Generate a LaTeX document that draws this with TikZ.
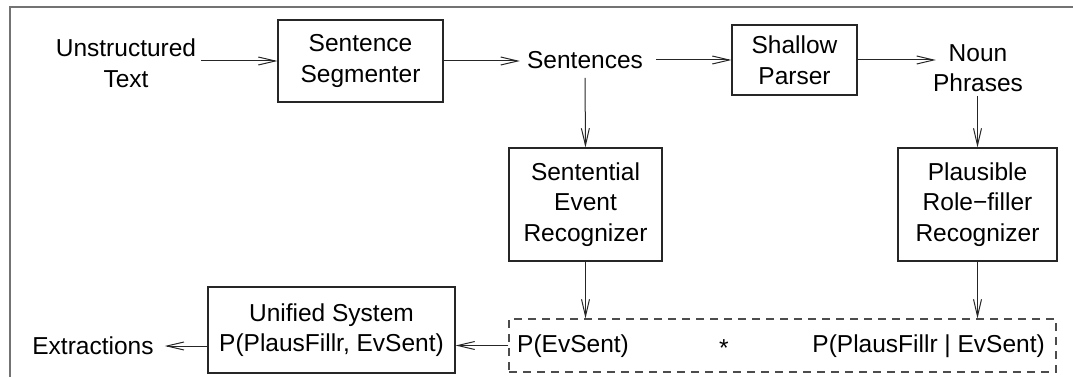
\documentclass[tikz,border=0pt]{standalone}
\usepackage{fontspec}
\setmainfont{Liberation Sans}
\usetikzlibrary{arrows.meta}
\begin{document}
\begin{tikzpicture}[x=1pt,y=-1pt,
  every node/.style={font=\fontsize{24.5}{30.5}\selectfont, align=center, inner sep=0pt, text=black},
  boxnode/.style={draw=black!85, line width=1.1pt, anchor=center},
  txt/.style={},
  conn/.style={draw=black!85, line width=1pt, -{Straight Barb[length=17pt,width=8pt,line width=1pt]}},
  frameline/.style={draw=black!55, line width=1.6pt}]
\useasboundingbox (0,0) rectangle (1073,377);
% frame (top and left only)
\draw[frameline] (1073,7) -- (10,7) -- (10,377);

% nodes
\node[txt] (ut) at (126,63) {Unstructured\\Text};
\node[boxnode, minimum width=165pt, minimum height=82pt] (ss) at (360.5,61) {Sentence\\Segmenter};
\node[txt] (sent) at (585,60) {Sentences};
\node[boxnode, minimum width=125pt, minimum height=70pt] (sp) at (794.5,60) {Shallow\\Parser};
\node[txt] (np) at (978,68) {Noun\\Phrases};
\node[boxnode, minimum width=153pt, minimum height=113pt] (sev) at (585.5,204.5) {Sentential\\Event\\Recognizer};
\node[boxnode, minimum width=159pt, minimum height=113pt] (prf) at (977.5,204.5) {Plausible\\Role−filler\\Recognizer};
\node[draw=black!70, line width=1.1pt, dash pattern=on 8pt off 6pt, minimum width=547pt, minimum height=53pt] (prod) at (782.5,345.5) {};
\node[txt, anchor=west] (pev) at (517,346) {P(EvSent)};
\node[txt] (star) at (724,348) {*};
\node[txt, anchor=east] (ppf) at (1045,346) {P(PlausFillr | EvSent)};
\node[boxnode, minimum width=247pt, minimum height=86pt] (uni) at (331.5,330) {Unified System\\P(PlausFillr, EvSent)};
\node[txt] (ext) at (93,346) {Extractions};

% connectors
\draw[conn] ([xshift=5pt]ut.east |- ss.west) -- (ss.west);
\draw[conn] (ss.east) -- ([xshift=-7pt]sent.west |- ss.east);
\draw[conn] ([xshift=13pt]sent.east |- sp.west) -- (sp.west);
\draw[conn] (sp.east) -- ([xshift=3pt]np.west |- sp.east);
\draw[conn] ([yshift=-9pt]sent.south) -- (sev.north);
\draw[conn] ([yshift=-4pt]np.south -| prf.north) -- (prf.north);
\draw[conn] (sev.south) -- (sev.south |- prod.north);
\draw[conn] (prf.south) -- (prf.south |- prod.north);
\draw[conn] (prod.west) -- (prod.west -| uni.east);
\draw[conn] (uni.west |- ext) -- ([xshift=11pt]ext.east);
\end{tikzpicture}
\end{document}
